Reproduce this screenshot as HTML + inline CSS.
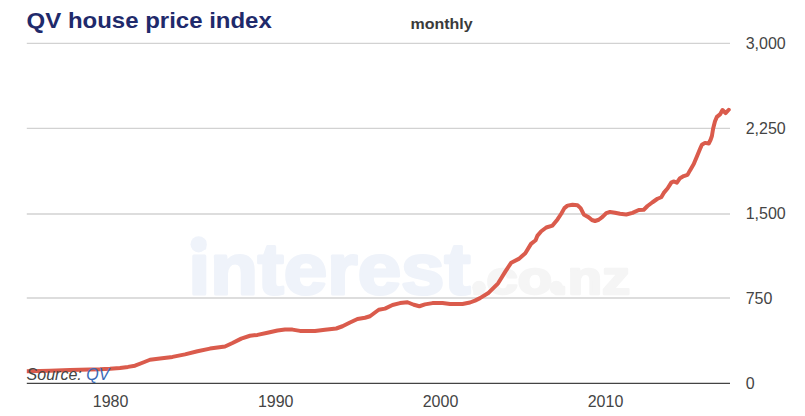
<!DOCTYPE html>
<html lang="en">
<head>
<meta charset="utf-8">
<title>QV house price index</title>
<style>
  html, body { margin:0; padding:0; background:#ffffff; }
  body { width:805px; height:416px; overflow:hidden; position:relative;
         font-family:"Liberation Sans", sans-serif; }
  svg { position:absolute; left:0; top:0; display:block; }
  text { font-family:"Liberation Sans", sans-serif; }
  .title { font-size:24px; font-weight:bold; fill:#1f2a6b; }
  .sub { font-size:16px; font-weight:bold; fill:#3a3a3a; }
  .ax { font-size:16px; fill:#444444; }
  .src { font-size:16px; font-style:italic; fill:#444444; }
  .src .lnk { fill:#3b6ab6; }
  .wm1 { font-size:73px; font-weight:bold; fill:#eff3fa; stroke:#eff3fa; stroke-width:3px; stroke-linejoin:round; }
  .wm2 { font-size:46px; font-weight:bold; fill:#f5f5f5; stroke:#f5f5f5; stroke-width:2.5px; stroke-linejoin:round; }
</style>
</head>
<body>
<svg width="805" height="416" viewBox="0 0 805 416">
  <rect x="0" y="0" width="805" height="416" fill="#ffffff"/>
  <!-- watermark -->
  <text class="wm1" x="188.5" y="294" textLength="282" lengthAdjust="spacingAndGlyphs">interest</text>
  <text class="wm2" x="471" y="293.5" textLength="159" lengthAdjust="spacingAndGlyphs">.co.nz</text>
  <circle cx="198.6" cy="244.3" r="8.1" fill="#eff3fa"/>
  <circle cx="479" cy="287.6" r="6.9" fill="#f5f5f5"/>
  <circle cx="556.3" cy="287.6" r="6.9" fill="#f5f5f5"/>
  <!-- grid -->
  <g stroke="#d2d2d2" stroke-width="1.3">
    <line x1="26.8" y1="43.45" x2="730" y2="43.45"/>
    <line x1="26.8" y1="128.45" x2="730" y2="128.45"/>
    <line x1="26.8" y1="213.95" x2="730" y2="213.95" stroke-width="1.5"/>
    <line x1="26.8" y1="297.95" x2="730" y2="297.95" stroke-width="1.5"/>
  </g>
  <line x1="26.8" y1="383.4" x2="730" y2="383.4" stroke="#444444" stroke-width="1.2"/>
  <!-- series -->
  <clipPath id="plot"><rect x="26.8" y="40" width="710" height="345"/></clipPath>
  <path clip-path="url(#plot)" d="M24 371.3 L27 371.2 L40 370.9 L50 370.7 L70 370.1 L100 369.3 L110 368.8 L120 367.9 L128 366.9 L135 365.7 L142.5 362.75 L150 359.75 L160 358.5 L172.5 356.9 L185 354.4 L197.5 351.25 L210 348.6 L225 346.5 L232.5 343 L241.25 338.6 L250 335.75 L257.5 334.9 L267.5 332.75 L277.5 330.5 L285 329.5 L292.5 329.6 L300 330.9 L315 331 L325 329.75 L336.25 328.5 L342.5 326.25 L350 322.5 L357.5 319 L365 317.75 L370 316.25 L375 312.5 L378.75 309.75 L385 308.6 L392.5 305 L400 303.1 L407.5 302.25 L413.75 304.75 L419.4 306.25 L425 304.4 L432.5 303.1 L442.5 303.1 L450 304 L462.5 304 L470 302.5 L475 300.6 L480 298.1 L488.75 292.7 L498.1 283.3 L505.6 271.1 L511.25 262.7 L518.75 258.9 L525.3 253.3 L531 243.9 L535.6 240.2 L537.5 235.6 L541.25 231.25 L546.25 227.5 L552.5 225.6 L557.5 219.4 L561.25 213.75 L564.4 208.1 L567.5 205.6 L572.5 204.75 L577.5 205.25 L580.6 208.1 L583.75 214.4 L588.1 216.9 L591.9 220 L595 221 L598.75 219.75 L602.5 216.9 L606.25 213.1 L610 211.9 L615 212.75 L620 213.8 L626.25 214.5 L632.5 212.9 L638.75 210 L643.75 209.75 L647.5 206 L652.5 202.25 L657.5 198.75 L661.25 197.25 L663.75 192.9 L667.5 188.5 L671.25 182.6 L673.5 181.4 L676.9 182.7 L680 178.2 L683.75 176.1 L687.5 174.9 L690 170.4 L693.75 164.1 L696.9 156.6 L700 149.1 L701.9 144.75 L705 142.9 L708.75 143.5 L710.6 139.75 L711.9 136 L713.1 128.75 L715 121.25 L716.9 116.9 L720 114.4 L722.5 110 L725.6 113.1 L728.75 109.75" fill="none" stroke="#da5b4c" stroke-width="4" stroke-linejoin="round" stroke-linecap="round"/>
  <!-- labels -->
  <text class="title" transform="translate(26.6 28.3) scale(1 0.945)" x="0" y="0">QV house price index</text>
  <text class="sub" transform="translate(410.5 28.7) scale(1 0.95)" x="0" y="0">monthly</text>
  <text class="ax" x="745.7" y="48.6">3,000</text>
  <text class="ax" x="745.7" y="133.6">2,250</text>
  <text class="ax" x="745.7" y="218.6">1,500</text>
  <text class="ax" x="745.7" y="303.6">750</text>
  <text class="ax" x="745.7" y="388.8">0</text>
  <text class="ax" x="110.6" y="406.8" text-anchor="middle">1980</text>
  <text class="ax" x="275.7" y="406.8" text-anchor="middle">1990</text>
  <text class="ax" x="440.5" y="406.8" text-anchor="middle">2000</text>
  <text class="ax" x="605.5" y="406.8" text-anchor="middle">2010</text>
  <text class="src" x="26.6" y="379.6">Source: <tspan class="lnk">QV</tspan></text>
</svg>
</body>
</html>
